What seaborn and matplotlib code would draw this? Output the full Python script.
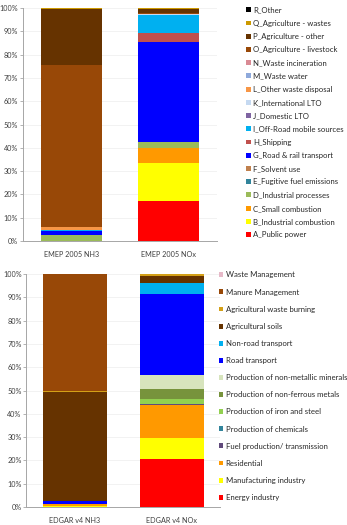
import matplotlib
matplotlib.use("Agg")
import matplotlib.pyplot as plt
from matplotlib.patches import Patch
import seaborn as sns
import numpy as np

# ---------------- data ----------------
emep_cats = ["EMEP 2005 NH3", "EMEP 2005 NOx"]
emep_sectors = ["A_Public power", "B_Industrial combustion", "C_Small combustion",
                "D_Industrial processes", "E_Fugitive fuel emissions", "F_Solvent use",
                "G_Road & rail transport", "H_Shipping", "I_Off-Road mobile sources",
                "J_Domestic LTO", "K_International LTO", "L_Other waste disposal",
                "M_Waste water", "N_Waste incineration", "O_Agriculture - livestock",
                "P_Agriculture - other", "Q_Agriculture - wastes", "R_Other"]
emep_nh3 = [0.0, 0.0, 0.2, 2.2, 0.3, 0.0, 1.8, 0.0, 0.1, 0.0, 0.0, 1.3, 0.0, 0.2, 69.4, 24.2, 0.3, 0.0]
emep_nox = [17.2, 16.4, 6.4, 2.4, 0.1, 0.0, 42.7, 4.0, 7.6, 0.1, 0.5, 0.0, 0.0, 0.2, 0.1, 2.0, 0.3, 0.0]
emep_colors = ["#FF0000", "#FFFF00", "#FF9900", "#9BBB59", "#31849B", "#C0804D",
               "#0000FF", "#C0504D", "#00B0F0", "#7F64A2", "#C5D9F1", "#F79646",
               "#8EA9DB", "#D98A94", "#984807", "#663300", "#CC9900", "#000000"]

edgar_cats = ["EDGAR v4 NH3", "EDGAR v4 NOx"]
edgar_sectors = ["Energy industry", "Manufacturing industry", "Residential",
                 "Fuel production/ transmission", "Production of chemicals",
                 "Production of iron and steel", "Production of non-ferrous metals",
                 "Production of non-metallic minerals", "Road transport",
                 "Non-road transport", "Agricultural soils", "Agricultural waste burning",
                 "Manure Management", "Waste Management"]
edgar_nh3 = [0.1, 0.3, 0.7, 0.0, 0.2, 0.0, 0.0, 0.0, 1.4, 0.0, 46.8, 0.1, 50.3, 0.1]
edgar_nox = [20.6, 9.1, 14.1, 0.3, 0.3, 1.8, 4.3, 6.0, 35.0, 4.5, 3.1, 0.7, 0.1, 0.1]
edgar_colors = ["#FF0000", "#FFFF00", "#FF9900", "#604A7B", "#31849B", "#92D050",
                "#77933C", "#D7E4BD", "#0000FF", "#00B0F0", "#663300", "#D4A017",
                "#984807", "#E6B9C8"]
yticks = [0, 10, 20, 30, 40, 50, 60, 70, 80, 90, 100]
ytick_labels = [f"{t}%" for t in yticks]

# ---------------- style ----------------
sns.set_theme(style="white")
plt.rcParams["font.family"] = ["Lato", "DejaVu Sans"]
TXT = "#404040"
FS = 5.2
LFS = 5.6

W, H = 347, 525
fig = plt.figure(figsize=(W / 100, H / 100), dpi=100)


def fx(px):
    return px / W


def fy(py):
    return 1 - py / H


def panel(rect, cats, sectors, v1, v2, colors, width, leg_anchor, spacing, hl):
    ax = fig.add_axes(rect)
    bottom = np.zeros(2)
    for s, a, b, c in zip(sectors, v1, v2, colors):
        vals = np.array([a, b])
        sns.barplot(x=cats, y=vals, bottom=bottom, color=c, width=width,
                    linewidth=0, saturation=1, ax=ax, zorder=3)
        bottom = bottom + vals
    ax.set_xlim(-0.5, 1.5)
    ax.set_ylim(0, 100)
    ax.set_yticks(yticks)
    ax.set_yticklabels(ytick_labels)
    ax.set_xticks([0, 1])
    ax.set_xticklabels(cats)
    ax.set_xticks([-0.5, 0.5, 1.5], minor=True)
    ax.tick_params(axis="x", which="major", length=0, pad=7, labelsize=FS, labelcolor=TXT)
    ax.tick_params(axis="x", which="minor", length=3, width=0.6, color="#A6A6A6", direction="out")
    ax.tick_params(axis="y", length=2.5, width=0.6, color="#A6A6A6", direction="out",
                   pad=1.0, labelsize=FS, labelcolor=TXT, left=True)
    ax.grid(axis="y", color="#EDEDED", linewidth=0.5, zorder=0)
    ax.set_axisbelow(True)
    for sp in ["top", "right"]:
        ax.spines[sp].set_visible(False)
    for sp in ["left", "bottom"]:
        ax.spines[sp].set_color("#A6A6A6")
        ax.spines[sp].set_linewidth(0.7)
    ax.set_xlabel("")
    ax.set_ylabel("")
    handles = [Patch(facecolor=c, edgecolor="none") for c in colors][::-1]
    labels = list(sectors)[::-1]
    leg = ax.legend(handles, labels, loc="upper left", bbox_to_anchor=leg_anchor,
                    bbox_transform=fig.transFigure, frameon=False, fontsize=LFS,
                    handlelength=hl, handleheight=hl, handletextpad=0.3,
                    labelspacing=spacing, borderpad=0, borderaxespad=0)
    for t in leg.get_texts():
        t.set_color("#262626")
    return ax


panel([fx(23), fy(241), fx(217 - 23), (241 - 8) / H], emep_cats, emep_sectors,
      emep_nh3, emep_nox, emep_colors, 0.63, (fx(246), fy(6.5)), 0.8, 0.6)
panel([fx(26.5), fy(507), fx(220 - 26.5), (507 - 274) / H], edgar_cats, edgar_sectors,
      edgar_nh3, edgar_nox, edgar_colors, 0.66, (fx(218.5), fy(271.5)), 1.3, 0.6)

fig.savefig("out.png", dpi=100)
